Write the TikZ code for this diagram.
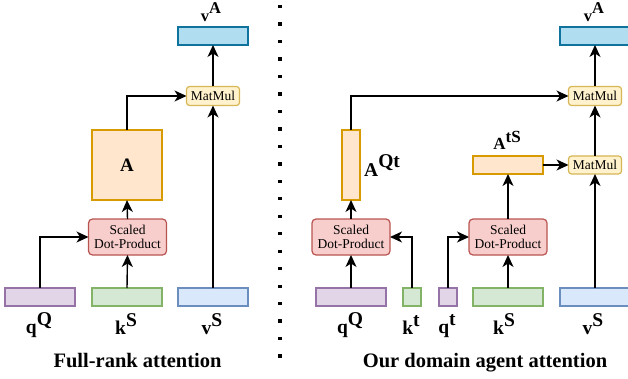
\documentclass[tikz,border=0pt]{standalone}
\usepackage{fontspec}
\setmainfont{Liberation Serif}
\usepackage{xcolor}
\usepackage{tikz}
\usetikzlibrary{shapes,arrows,positioning,calc,arrows.meta}

\definecolor{qfill}{HTML}{E1D5E7}\definecolor{qdraw}{HTML}{9673A6}
\definecolor{kfill}{HTML}{D5E8D4}\definecolor{kdraw}{HTML}{82B366}
\definecolor{vfill}{HTML}{DAE8FC}\definecolor{vdraw}{HTML}{6C8EBF}
\definecolor{sfill}{HTML}{F8CECC}\definecolor{sdraw}{HTML}{B85450}
\definecolor{afill}{HTML}{FFE6CC}\definecolor{adraw}{HTML}{D79B00}
\definecolor{mfill}{HTML}{FFF2CC}\definecolor{mdraw}{HTML}{D6B656}
\definecolor{ofill}{HTML}{B1DDF0}\definecolor{odraw}{HTML}{10739E}

\newcommand{\supl}[2]{#1\raisebox{0.4em}{#2}}

\tikzset{
    box/.style={draw, line width=1.2pt, inner sep=0pt, outer sep=0pt},
    qbox/.style={box, fill=qfill, draw=qdraw},
    kbox/.style={box, fill=kfill, draw=kdraw},
    vbox/.style={box, fill=vfill, draw=vdraw},
    abox/.style={box, fill=afill, draw=adraw},
    obox/.style={box, fill=ofill, draw=odraw, minimum width=70pt, minimum height=18pt},
    sdp/.style={box, fill=sfill, draw=sdraw, rounded corners=4pt, minimum width=78pt, minimum height=36pt,
        align=center, font=\fontsize{13.5}{14.5}\selectfont},
    matmul/.style={box, fill=mfill, draw=mdraw, rounded corners=3pt, minimum width=53pt, minimum height=19pt,
        font=\fontsize{13.5}{14}\selectfont},
    arr/.style={line width=1.4pt, -{Stealth[length=12pt, width=11pt, inset=3.5pt]}},
    lbl/.style={anchor=base, inner sep=0pt, font=\fontsize{19.5}{19.5}\selectfont\bfseries},
    toplbl/.style={anchor=base, inner sep=0pt, font=\fontsize{16.5}{16.5}\selectfont\bfseries},
    title/.style={anchor=base, inner sep=0pt, font=\fontsize{20.5}{20.5}\selectfont\bfseries}
}

\begin{document}
\begin{tikzpicture}[x=1pt, y=-1pt]
    \useasboundingbox (0,0) rectangle (628,379);

    % Full-rank attention
    \node[qbox, minimum width=70pt, minimum height=18pt] (qQL) at (40,297) {};
    \node[kbox, minimum width=70pt, minimum height=18pt] (kSL) at (127,297) {};
    \node[vbox, minimum width=70pt, minimum height=18pt] (vSL) at (213,297) {};
    \node[sdp] (sdpL) at (127.5,237) {Scaled\\Dot-Product};
    \node[abox, minimum width=70pt, minimum height=70pt, font=\fontsize{19}{19}\selectfont\bfseries] (AL) at (127,165) {A};
    \node[matmul] (mmL) at (213,96) {MatMul};
    \node[obox] (vAL) at (213,36) {};

    \draw[arr] (qQL.north) |- (sdpL.west);
    \draw[arr] (kSL.north) -- (sdpL.south);
    \draw[arr] (sdpL.north) -- (AL.south);
    \draw[arr] (AL.north) |- (mmL.west);
    \draw[arr] (vSL.north) -- (mmL.south);
    \draw[arr] (mmL.north) -- (vAL.south);

    \node[lbl] (qQLl) at (39,333) {\supl{q}{Q}};
    \node[lbl] (kSLl) at (126,334) {\supl{k}{S}};
    \node[lbl] (vSLl) at (212,334) {\supl{v}{S}};
    \node[toplbl] (vALl) at (211,21.5) {v\raisebox{0.5em}{A}};
    \node[title] (ttlL) at (137.5,367) {Full-rank attention};

    % separator
    \foreach \i in {0,...,20} {
        \fill (278.4,{5+17.47*\i}) rectangle ++(3.3,3.3);
    }

    % Our domain agent attention
    \node[qbox, minimum width=70pt, minimum height=18pt] (qQR) at (351,297) {};
    \node[kbox, minimum width=18pt, minimum height=18pt] (ktR) at (412,297) {};
    \node[qbox, minimum width=18pt, minimum height=18pt] (qtR) at (448,297) {};
    \node[kbox, minimum width=70pt, minimum height=18pt] (kSR) at (508,297) {};
    \node[vbox, minimum width=70pt, minimum height=18pt] (vSR) at (595,297) {};
    \node[sdp] (sdpQ) at (351,237) {Scaled\\Dot-Product};
    \node[sdp] (sdpS) at (508,237) {Scaled\\Dot-Product};
    \node[abox, minimum width=18pt, minimum height=70pt] (AQt) at (351,165) {};
    \node[abox, minimum width=70pt, minimum height=18pt] (AtS) at (508,165) {};
    \node[matmul, minimum height=18pt] (mmS) at (595,165) {MatMul};
    \node[matmul] (mmR) at (595,96) {MatMul};
    \node[obox] (vAR) at (595,36) {};

    \draw[arr] (qQR.north) -- (sdpQ.south);
    \draw[arr] (ktR.north) |- (sdpQ.east);
    \draw[arr] (qtR.north) |- (sdpS.west);
    \draw[arr] (kSR.north) -- (sdpS.south);
    \draw[arr] (sdpQ.north) -- (AQt.south);
    \draw[arr] (sdpS.north) -- (AtS.south);
    \draw[arr] (AtS.east) -- (mmS.west);
    \draw[arr] (AQt.north) |- (mmR.west);
    \draw[arr] (vSR.north) -- (mmS.south);
    \draw[arr] (mmS.north) -- (mmR.south);
    \draw[arr] (mmR.north) -- (vAR.south);

    \node[lbl] (qQRl) at (350,333) {\supl{q}{Q}};
    \node[lbl] (ktRl) at (411,334) {\supl{k}{t}};
    \node[lbl] (qtRl) at (447,333) {\supl{q}{t}};
    \node[lbl] (kSRl) at (504,334) {\supl{k}{S}};
    \node[lbl] (vSRl) at (593,334) {\supl{v}{S}};
    \node[toplbl] (vARl) at (594,21.5) {v\raisebox{0.5em}{A}};
    \node[lbl, anchor=base west] (AQtl) at (364,177) {A\raisebox{0.48em}{Qt}};
    \node[toplbl, font=\fontsize{17}{17}\selectfont\bfseries] (AtSl) at (507,150) {A\raisebox{0.45em}{tS}};
    \node[title] (ttlR) at (485,367) {Our domain agent attention};
\end{tikzpicture}
\end{document}
